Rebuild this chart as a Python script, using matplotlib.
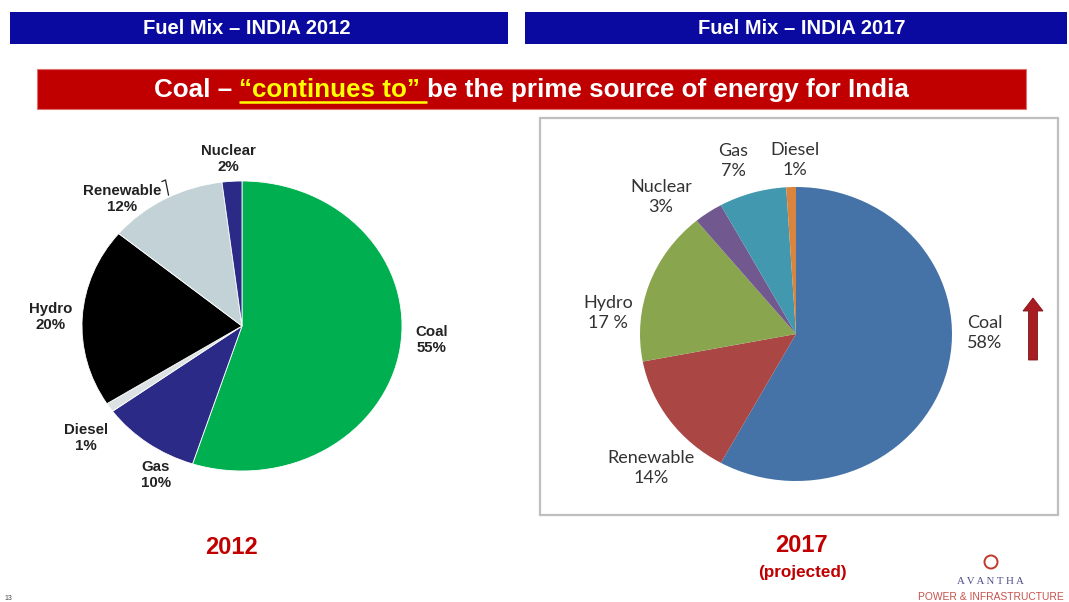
import matplotlib
matplotlib.use("Agg")
import matplotlib.pyplot as plt
from matplotlib.patches import Rectangle, Circle, FancyArrow

# ---- data -------------------------------------------------------------
fuels_2012 = ["Coal", "Gas", "Diesel", "Hydro", "Renewable", "Nuclear"]
share_2012 = [55, 10, 1, 20, 12, 2]
colors_2012 = ["#00B050", "#2B2A86", "#DCE2E3", "#000000", "#C3D2D6", "#2B2A86"]

fuels_2017 = ["Coal", "Renewable", "Hydro", "Nuclear", "Gas", "Diesel"]
share_2017 = [58, 14, 17, 3, 7, 1]
colors_2017 = ["#4572A7", "#AA4643", "#89A54E", "#71588F", "#4198AF", "#DB843D"]

# label anchor points (pixel coordinates, y downwards)
label_pos_2012 = {"Coal": (432, 340), "Gas": (156, 475), "Diesel": (86, 438),
                  "Hydro": (51, 317), "Renewable": (122, 199), "Nuclear": (228, 159)}
label_pos_2017 = {"Coal": (985, 333), "Renewable": (651, 468), "Hydro": (608, 313),
                  "Nuclear": (661, 197), "Gas": (733, 161), "Diesel": (795, 160)}
pct_gap_2017 = {"Hydro": " "}

W, H = 1069, 602
fig = plt.figure(figsize=(W / 100, H / 100), dpi=100)
fig.patch.set_facecolor("white")

# background layer in pixel units
bg = fig.add_axes([0, 0, 1, 1])
bg.set_xlim(0, W)
bg.set_ylim(H, 0)
bg.axis("off")

BLUE = "#0A0AA0"
RED = "#C00000"
SANS = ["Liberation Sans", "DejaVu Sans"]

# title banners
bg.add_patch(Rectangle((10, 12), 498, 32, facecolor=BLUE, edgecolor="none"))
bg.add_patch(Rectangle((525, 12), 542, 32, facecolor=BLUE, edgecolor="none"))
bg.text(247, 28.5, "Fuel Mix – INDIA 2012", color="white", fontsize=14.5,
        fontweight="bold", family=SANS, ha="center", va="center")
bg.text(802, 28.5, "Fuel Mix – INDIA 2017", color="white", fontsize=14.5,
        fontweight="bold", family=SANS, ha="center", va="center")

# headline banner
bg.add_patch(Rectangle((37, 69), 989, 40, facecolor=RED, edgecolor="#E07070", lw=0.8))

# frame around the 2017 pie
bg.add_patch(Rectangle((540, 118), 518, 397, facecolor="none", edgecolor="#BFBFBF", lw=1.6))

# headline with a highlighted, underlined phrase
parts = [("Coal – ", "white", False),
         ("“continues to” ", "#FFFF00", True),
         ("be the prime source of energy for India", "white", False)]
hl_size = 18.7
renderer = fig.canvas.get_renderer()
widths = []
for txt, col, _ in parts:
    t = bg.text(0, 0, txt, fontsize=hl_size, fontweight="bold", family=SANS)
    bb = t.get_window_extent(renderer=renderer)
    widths.append(bb.width)
    t.remove()
x = 531.5 - sum(widths) / 2
for (txt, col, underline), w in zip(parts, widths):
    bg.text(x, 90, txt, color=col, fontsize=hl_size, fontweight="bold",
            family=SANS, ha="left", va="center")
    if underline:
        bg.plot([x, x + w], [101.5, 101.5], color=col, lw=1.8, solid_capstyle="butt")
    x += w

# pies drawn as ellipses: axes sized to each pie's half-widths
def pie_axes(cx, cy, rx, ry):
    return fig.add_axes([(cx - rx) / W, 1 - (cy + ry) / H, 2 * rx / W, 2 * ry / H])

ax1 = pie_axes(242, 326, 160, 145)
ax1.pie(share_2012, colors=colors_2012, startangle=90, counterclock=False,
        radius=1, wedgeprops=dict(edgecolor="white", linewidth=0.6))
ax1.set_aspect("auto")
ax1.set_xlim(-1, 1)
ax1.set_ylim(-1, 1)
ax1.axis("off")

ax2 = pie_axes(796, 334, 156, 147)
ax2.pie(share_2017, colors=colors_2017, startangle=90, counterclock=False,
        radius=1, wedgeprops=dict(edgecolor="none"))
ax2.set_aspect("auto")
ax2.set_xlim(-1, 1)
ax2.set_ylim(-1, 1)
ax2.axis("off")

# slice labels
for name, v in zip(fuels_2012, share_2012):
    px, py = label_pos_2012[name]
    fig.text(px / W, 1 - py / H, f"{name}\n{v}%", fontsize=10.8, fontweight="bold",
             family=SANS, color="#222222", ha="center", va="center", linespacing=1.12)
bg.plot([162, 165.5, 168.5], [181.5, 180, 195], color="#222222", lw=0.9)

for name, v in zip(fuels_2017, share_2017):
    px, py = label_pos_2017[name]
    fig.text(px / W, 1 - py / H, f"{name}\n{v}{pct_gap_2017.get(name, '')}%",
             fontsize=13, family=["Lato", "DejaVu Sans"], color="#333333",
             ha="center", va="center", linespacing=1.3)

# growth arrow next to coal
bg.add_patch(FancyArrow(1033, 360, 0, -62, width=9, head_width=20, head_length=13,
                        length_includes_head=True, facecolor="#A81D22",
                        edgecolor="#7E1418", lw=0.6))

# year captions
bg.text(231, 548, "2012", color=RED, fontsize=17, fontweight="bold", family=SANS,
        ha="center", va="center")
bg.text(801, 546, "2017", color=RED, fontsize=17, fontweight="bold", family=SANS,
        ha="center", va="center")
bg.text(802, 572, "(projected)", color=RED, fontsize=12.3, fontweight="bold",
        family=SANS, ha="center", va="center")

# company mark
bg.add_patch(Circle((991, 562), 6.5, facecolor="none", edgecolor="#C0392B", lw=1.4))
bg.text(990, 581, "A V A N T H A", color="#4B4B8A", fontsize=7.8,
        family=["Liberation Serif", "DejaVu Serif"], ha="center", va="center")
bg.text(991, 597, "POWER & INFRASTRUCTURE", color="#C8504A", fontsize=7.4,
        family=SANS, ha="center", va="center")

# page number
bg.text(8, 598, "13", color="#444444", fontsize=5, family=SANS, ha="center", va="center")

fig.savefig("out.png", dpi=100, facecolor="white")
